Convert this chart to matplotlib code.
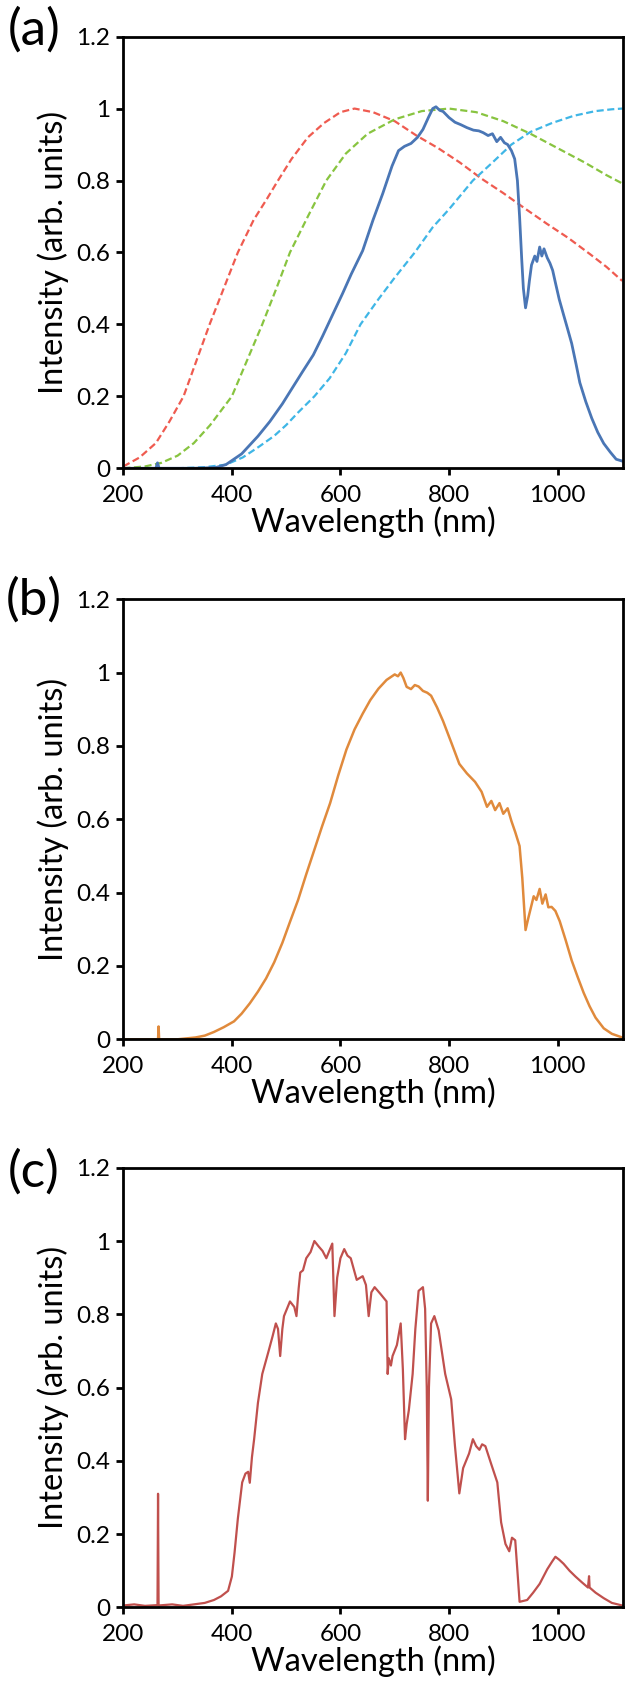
import matplotlib
matplotlib.use("Agg")
import matplotlib.pyplot as plt

plt.rcParams['font.family'] = ['Lato', 'DejaVu Sans']

# ---- data ----
# (a) sensitivity-like dashed curves
red_wl = [200, 230, 260, 285, 311, 335, 359, 385, 411, 440, 465, 485, 510, 540, 570,
          600, 626, 660, 700, 740, 780, 820, 860, 900, 940, 980, 1020, 1060, 1090, 1119]
red_int = [0.005, 0.03, 0.07, 0.13, 0.2, 0.3, 0.4, 0.5, 0.6, 0.69, 0.75, 0.8, 0.86, 0.92, 0.96,
           0.99, 1.0, 0.99, 0.965, 0.925, 0.89, 0.85, 0.805, 0.765, 0.722, 0.68, 0.64, 0.595, 0.56, 0.521]

green_wl = [200, 240, 270, 300, 330, 360, 380, 400, 428, 456, 482, 507, 540, 574,
            610, 650, 700, 750, 800, 850, 900, 950, 1000, 1050, 1090, 1119]
green_int = [0, 0.005, 0.015, 0.035, 0.07, 0.12, 0.16, 0.2, 0.3, 0.4, 0.5, 0.6, 0.7, 0.8,
             0.875, 0.93, 0.97, 0.993, 1.0, 0.99, 0.965, 0.93, 0.89, 0.85, 0.815, 0.792]

cyan_wl = [200, 300, 350, 389, 420, 450, 478, 500, 522, 552, 580, 610, 637, 670,
           700, 737, 770, 800, 844, 880, 915, 950, 990, 1030, 1070, 1100, 1119]
cyan_int = [0, 0, 0.003, 0.01, 0.03, 0.06, 0.09, 0.12, 0.155, 0.2, 0.25, 0.32, 0.4, 0.47,
            0.53, 0.6, 0.67, 0.72, 0.8, 0.85, 0.9, 0.935, 0.96, 0.98, 0.993, 0.998, 1.0]

# (a) measured spectrum
blue_wl = [200, 230, 260, 263, 266, 290, 330, 370, 389, 418,
           448, 470, 493, 510, 530, 550, 567, 585, 604, 620,
           641, 660, 678, 695, 707, 718, 730, 742, 752, 762,
           770, 776, 783, 789, 800, 811, 822, 833, 845, 855,
           863, 872, 880, 888, 895, 902, 908, 915, 921, 926,
           930, 934, 937, 941, 945, 948, 952, 958, 962, 967,
           971, 975, 981, 986, 991, 996, 1003, 1011, 1018, 1026,
           1034, 1041, 1052, 1063, 1074, 1085, 1097, 1108, 1119]
blue_int = [0, 0, 0, 0.015, 0, 0, 0, 0.002, 0.01, 0.04,
            0.089, 0.13, 0.179, 0.22, 0.268, 0.315, 0.367, 0.425, 0.486, 0.54,
            0.605, 0.69, 0.764, 0.84, 0.883, 0.895, 0.903, 0.92, 0.942, 0.975,
            1.0, 1.005, 0.995, 0.992, 0.975, 0.962, 0.955, 0.947, 0.94, 0.938,
            0.933, 0.925, 0.93, 0.908, 0.92, 0.905, 0.9, 0.883, 0.86, 0.80,
            0.70, 0.58, 0.50, 0.446, 0.48, 0.52, 0.565, 0.59, 0.575, 0.615,
            0.59, 0.61, 0.585, 0.57, 0.55, 0.516, 0.47, 0.427, 0.39, 0.347,
            0.29, 0.238, 0.185, 0.139, 0.10, 0.069, 0.045, 0.025, 0.02]

# (b)
orange_wl = [200, 264, 265, 266, 300, 333, 350, 367, 385,
             404, 418, 433, 448, 463, 478, 493, 507, 522, 537,
             552, 566, 581, 596, 611, 626, 641, 655, 670, 685,
             700, 706, 711, 716, 722, 730, 737, 744, 752, 760,
             767, 778, 789, 804, 819, 833, 848, 860, 870, 878,
             885, 893, 900, 908, 915, 922, 930, 935, 941, 946,
             951, 956, 961, 967, 972, 978, 983, 989, 996, 1004,
             1015, 1026, 1037, 1048, 1059, 1070, 1085, 1100, 1119]
orange_int = [0, 0, 0.035, 0, 0, 0.005, 0.01, 0.02, 0.033,
              0.049, 0.07, 0.098, 0.13, 0.166, 0.21, 0.263, 0.32, 0.38, 0.45,
              0.517, 0.58, 0.644, 0.72, 0.79, 0.845, 0.888, 0.925, 0.956, 0.98,
              0.995, 0.99, 1.0, 0.985, 0.961, 0.955, 0.966, 0.962, 0.95, 0.945,
              0.937, 0.905, 0.868, 0.81, 0.751, 0.725, 0.702, 0.675, 0.634, 0.65,
              0.625, 0.644, 0.615, 0.63, 0.595, 0.565, 0.527, 0.44, 0.298, 0.33,
              0.36, 0.39, 0.38, 0.41, 0.37, 0.395, 0.36, 0.361, 0.35, 0.322,
              0.27, 0.215, 0.17, 0.127, 0.09, 0.059, 0.03, 0.015, 0.005]

# (c)
solar_wl = [200, 220, 240, 263, 264, 265, 290, 310, 330, 350,
            367, 380, 393, 400, 405, 411, 419, 425, 430, 433,
            437, 441, 448, 456, 467, 475, 481, 485, 489, 493,
            496, 507, 515, 519, 523, 526, 531, 537, 545, 552,
            560, 567, 574, 580, 585, 589, 594, 600, 607, 613,
            619, 630, 641, 647, 652, 657, 663, 674, 685, 687,
            689, 693, 696, 704, 711, 715, 719, 722, 726, 733,
            738, 744, 752, 756, 759, 761, 763, 767, 773, 781,
            793, 804, 811, 816, 819, 826, 837, 844, 850, 856,
            861, 867, 878, 889, 896, 904, 911, 916, 922, 926,
            930, 944, 955, 967, 981, 990, 996, 1003, 1011, 1022,
            1033, 1045, 1056, 1058, 1059, 1070, 1085, 1100, 1119]
solar_int = [0.005, 0.008, 0.004, 0.006, 0.31, 0.005, 0.008, 0.004, 0.008, 0.012,
             0.02, 0.03, 0.045, 0.084, 0.15, 0.242, 0.341, 0.365, 0.37, 0.34,
             0.41, 0.459, 0.558, 0.637, 0.696, 0.74, 0.775, 0.76, 0.686, 0.76,
             0.795, 0.835, 0.82, 0.795, 0.87, 0.914, 0.92, 0.953, 0.97, 1.0,
             0.985, 0.973, 0.953, 0.975, 0.993, 0.795, 0.9, 0.953, 0.978, 0.96,
             0.953, 0.894, 0.904, 0.88, 0.795, 0.86, 0.874, 0.855, 0.835, 0.637,
             0.68, 0.66, 0.686, 0.716, 0.775, 0.65, 0.459, 0.5, 0.538, 0.637,
             0.76, 0.864, 0.874, 0.815, 0.6, 0.291, 0.6, 0.775, 0.795, 0.756,
             0.637, 0.568, 0.44, 0.36, 0.311, 0.38, 0.42, 0.459, 0.44, 0.43,
             0.445, 0.44, 0.39, 0.341, 0.232, 0.173, 0.153, 0.19, 0.183, 0.1,
             0.015, 0.02, 0.04, 0.064, 0.104, 0.125, 0.138, 0.13, 0.119, 0.1,
             0.084, 0.068, 0.054, 0.085, 0.054, 0.04, 0.025, 0.012, 0.005]

x_ticks = [200, 400, 600, 800, 1000]
y_ticks = [0, 0.2, 0.4, 0.6, 0.8, 1.0, 1.2]
y_labels = ['0', '0.2', '0.4', '0.6', '0.8', '1', '1.2']

fig = plt.figure(figsize=(6.32, 16.88), dpi=100)

positions = [[0.1951, 0.7226, 0.7902, 0.2557],
             [0.1951, 0.3843, 0.7902, 0.2607],
             [0.1951, 0.0478, 0.7902, 0.2604]]
axes = [fig.add_axes(p) for p in positions]

dash = (3.2, 1.6)
ax1 = axes[0]
ax1.plot(red_wl, red_int, color='#ef5b50', lw=1.6, dashes=dash)
ax1.plot(green_wl, green_int, color='#88c440', lw=1.6, dashes=dash)
ax1.plot(cyan_wl, cyan_int, color='#3fb6e6', lw=1.6, dashes=dash)
ax1.plot(blue_wl, blue_int, color='#4a76b5', lw=2.0)

axes[1].plot(orange_wl, orange_int, color='#e08a3c', lw=1.8)
axes[2].plot(solar_wl, solar_int, color='#c0504d', lw=1.6)

for ax in axes:
    ax.set_xlim(200, 1120)
    ax.set_ylim(0, 1.2)
    ax.set_xticks(x_ticks)
    ax.set_yticks(y_ticks)
    ax.set_yticklabels(y_labels)
    for s in ax.spines.values():
        s.set_linewidth(2.0)
    ax.tick_params(direction='out', length=5, width=2.0, labelsize=17.5, pad=4.5)
    ax.tick_params(axis='x', pad=7)
    ax.set_xlabel('Wavelength (nm)', fontsize=23.5, labelpad=0)
    ax.set_ylabel('Intensity (arb. units)', fontsize=23.5, labelpad=5)

panel_y = [0.9819, 0.6446, 0.3057]
for lab, y in zip(['(a)', '(b)', '(c)'], panel_y):
    fig.text(0.054, y, lab, fontsize=37, ha='center', va='center')

fig.savefig('out.png', dpi=100)
